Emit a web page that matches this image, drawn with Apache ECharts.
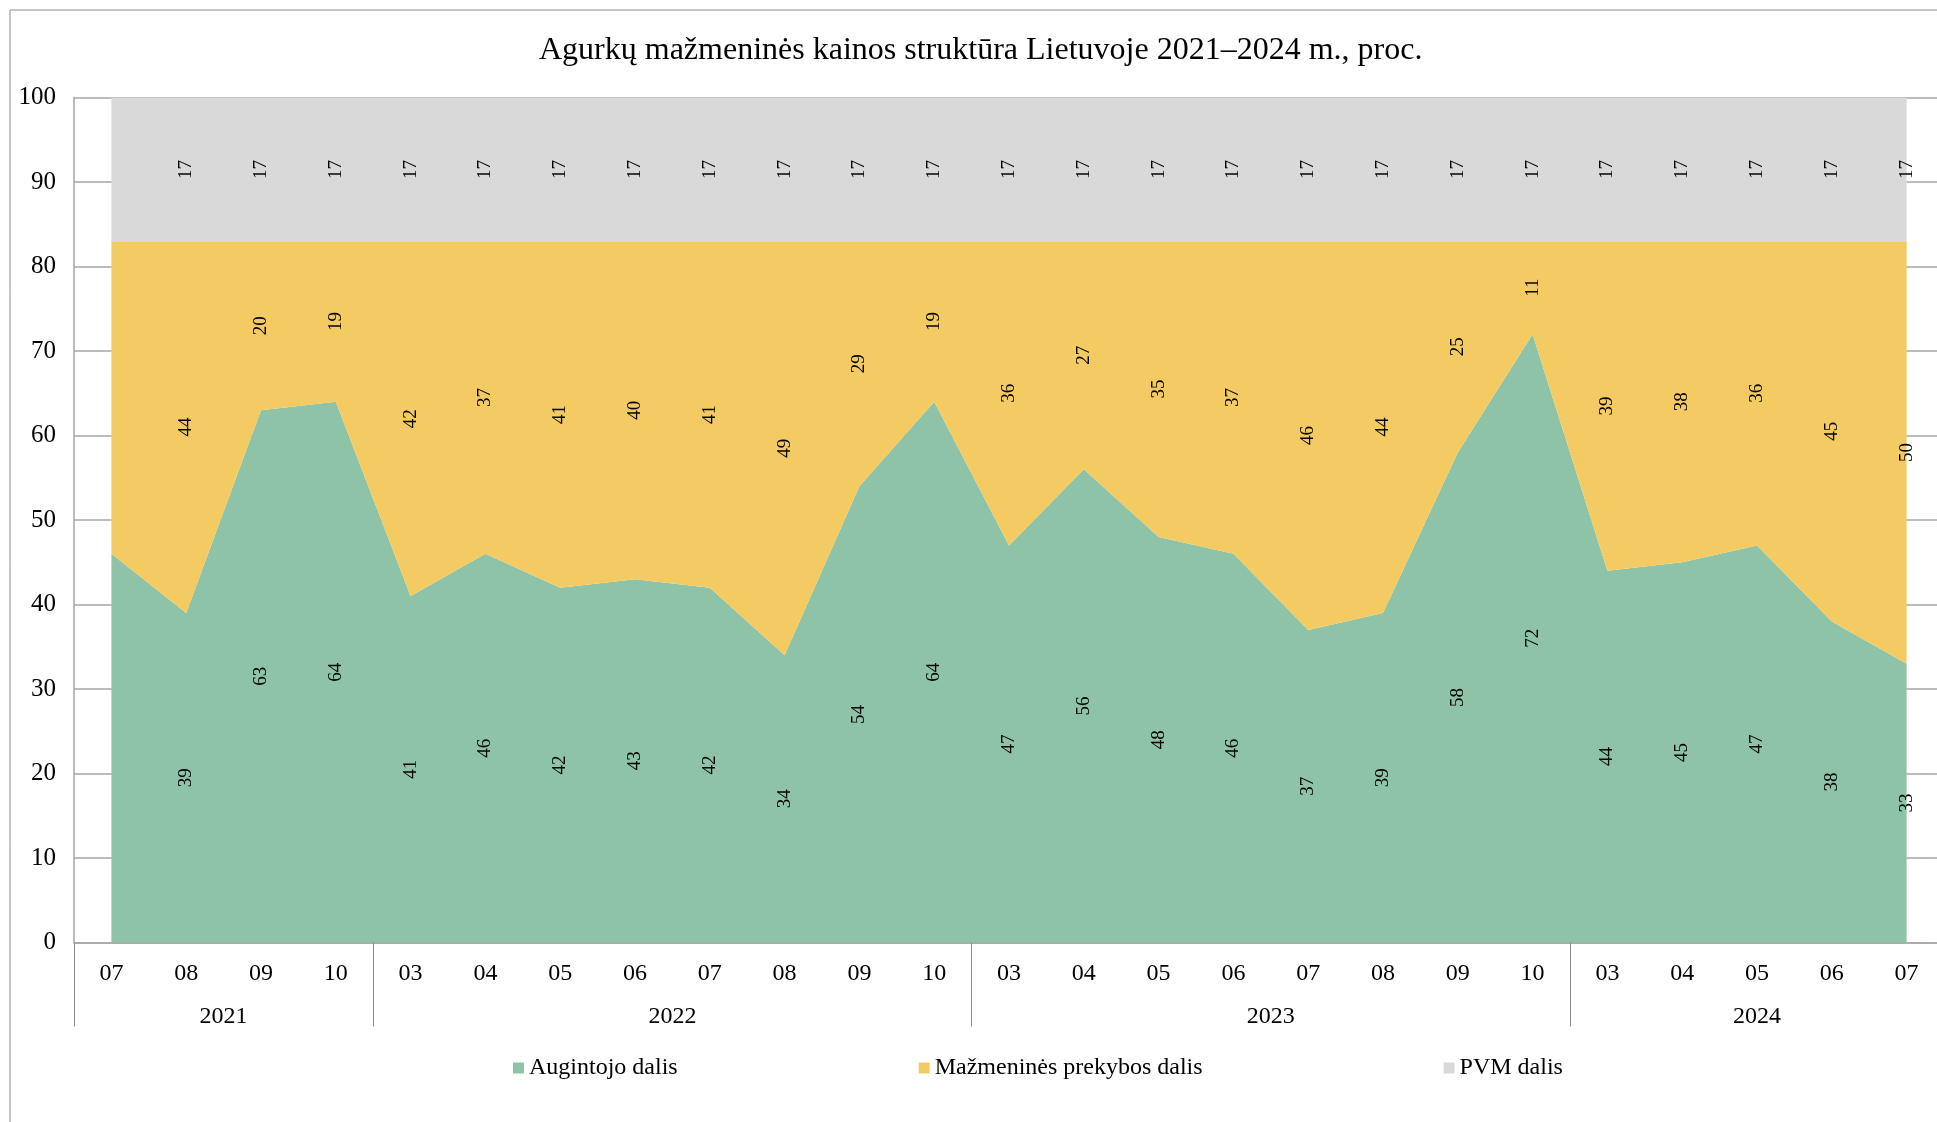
<!DOCTYPE html>
<html>
<head>
<meta charset="utf-8">
<script src="https://cdn.jsdelivr.net/npm/echarts@6/dist/echarts.min.js"></script>
<style>
  html, body { margin: 0; padding: 0; background: #fff; }
  #main { width: 1937px; height: 1122px; }
</style>
</head>
<body>
<div id="main"></div>
<script>
// mėnesiai ir metai
var months = ['07', '08', '09', '10',
    '03', '04', '05', '06', '07', '08', '09', '10',
    '03', '04', '05', '06', '07', '08', '09', '10',
    '03', '04', '05', '06', '07'];
var yearNames = ['2021', '2022', '2023', '2024'];
var yearCounts = [4, 8, 8, 5];

var seriesNames = ['Augintojo dalis', 'Mažmeninės prekybos dalis', 'PVM dalis'];
var seriesColors = ['#8ec3a7', '#f4cb63', '#d9d9d9'];

var grower = [46, 39, 63, 64, 41, 46, 42, 43, 42, 34, 54, 64, 47, 56, 48, 46, 37, 39, 58, 72, 44, 45, 47, 38, 33];
var retail = [37, 44, 20, 19, 42, 37, 41, 40, 41, 49, 29, 19, 36, 27, 35, 37, 46, 44, 25, 11, 39, 38, 36, 45, 50];
var vat = [17, 17, 17, 17, 17, 17, 17, 17, 17, 17, 17, 17, 17, 17, 17, 17, 17, 17, 17, 17, 17, 17, 17, 17, 17];

var serif = '"Liberation Serif", "DejaVu Serif", serif';

(function () {
    var dom = document.getElementById('main');
    var myChart = echarts.init(dom);

    // metų ribos ir centrai (pagal mėnesių skaičių)
    var bounds = [0];
    yearCounts.forEach(function (c, i) { bounds.push(bounds[i] + c); });
    var centers = [];
    for (var i = 0; i < yearNames.length; i++) {
        centers.push((bounds[i] + bounds[i + 1]) / 2);
    }

    var allData = [grower, retail, vat];

    var areaSeries = allData.map(function (d, k) {
        return {
            name: seriesNames[k],
            type: 'line',
            stack: 'area',
            data: d,
            color: seriesColors[k],
            showSymbol: false,
            symbol: 'none',
            lineStyle: { width: 0 },
            areaStyle: { color: seriesColors[k], opacity: 1 },
            emphasis: { disabled: true },
            silent: true,
            z: 2
        };
    });

    // nematomi stulpeliai reikšmių etiketėms juostų viduryje
    var labelSeries = allData.map(function (d, k) {
        return {
            name: 'lbl' + k,
            type: 'bar',
            stack: 'labels',
            barWidth: '50%',
            data: d.map(function (v, i) {
                return i === 0 ? { value: v, label: { show: false } } : v;
            }),
            itemStyle: { color: 'rgba(0,0,0,0)' },
            label: {
                show: true,
                position: 'inside',
                rotate: 90,
                color: '#000',
                fontFamily: serif,
                fontSize: 19
            },
            emphasis: { disabled: true },
            silent: true,
            z: 5
        };
    });

    var option = {
        animation: false,
        backgroundColor: '#fff',
        title: {
            text: 'Agurkų mažmeninės kainos struktūra Lietuvoje 2021–2024 m., proc.',
            left: 534,
            top: 30,
            textStyle: {
                fontFamily: serif,
                fontWeight: 'normal',
                fontSize: 32,
                color: '#000'
            }
        },
        graphic: [{
            type: 'rect',
            shape: { x: 10, y: 10, width: 1940, height: 1130 },
            style: { fill: 'none', stroke: '#8c8c8c', lineWidth: 1 },
            silent: true
        }],
        legend: {
            data: seriesNames,
            left: 508,
            top: 1051,
            icon: 'rect',
            itemWidth: 11,
            itemHeight: 11,
            itemGap: 241,
            textStyle: { fontFamily: serif, fontSize: 24, color: '#000' },
            selectedMode: false
        },
        grid: {
            left: 74,
            width: 1870,
            top: 97.6,
            bottom: 179.5,
            outerBoundsMode: 'none'
        },
        xAxis: [{
            type: 'category',
            data: months,
            boundaryGap: true,
            axisLine: { show: true, lineStyle: { color: '#a6a6a6', width: 1.5 } },
            axisTick: { show: false },
            axisLabel: {
                fontFamily: serif,
                fontSize: 24,
                color: '#000',
                margin: 19,
                interval: 0
            },
            splitLine: { show: false }
        }, {
            type: 'value',
            position: 'bottom',
            min: 0,
            max: bounds[bounds.length - 1],
            axisLine: { show: false },
            splitLine: { show: false },
            axisTick: {
                show: true,
                customValues: bounds,
                length: 84,
                lineStyle: { color: '#8c8c8c', width: 1 }
            },
            axisLabel: {
                show: true,
                customValues: centers,
                fontFamily: serif,
                fontSize: 24,
                color: '#000',
                margin: 62,
                formatter: function (v) {
                    var idx = centers.indexOf(v);
                    return idx >= 0 ? yearNames[idx] : '';
                }
            }
        }],
        yAxis: {
            type: 'value',
            min: 0,
            max: 100,
            interval: 10,
            axisLine: { show: true, lineStyle: { color: '#a6a6a6', width: 1.5 } },
            axisTick: { show: false },
            axisLabel: {
                fontFamily: serif,
                fontSize: 25,
                color: '#000',
                margin: 18
            },
            splitLine: { show: true, lineStyle: { color: '#a6a6a6', width: 1.5 } }
        },
        series: areaSeries.concat(labelSeries)
    };

    if (option && typeof option === 'object') {
        myChart.setOption(option, true);
    }
})();
</script>
</body>
</html>
